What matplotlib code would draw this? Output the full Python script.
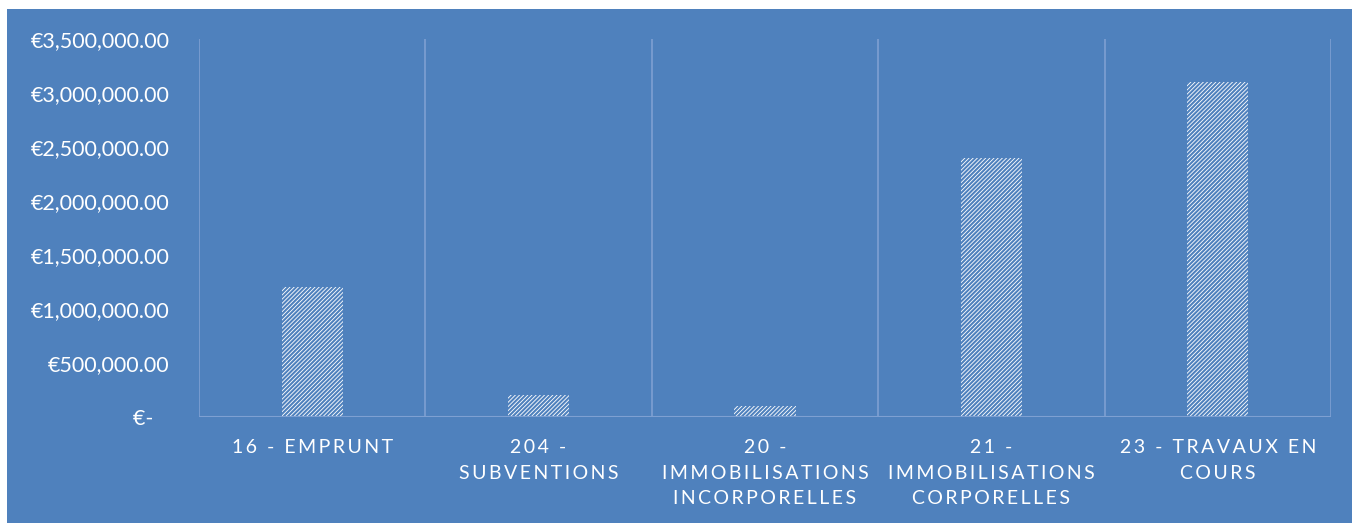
import matplotlib
matplotlib.use("Agg")
import matplotlib.pyplot as plt
from matplotlib.patches import Rectangle
from matplotlib.ticker import FuncFormatter, MultipleLocator

# données
categories = ["16 - EMPRUNT", "204 -\nSUBVENTIONS", "20 -\nIMMOBILISATIONS\nINCORPORELLES",
              "21 -\nIMMOBILISATIONS\nCORPORELLES", "23 - TRAVAUX EN\nCOURS"]
montants = [1200000, 200000, 100000, 2400000, 3100000]

bg = "#4F81BD"
grid_col = "#7EA0D2"

plt.rcParams['font.family'] = ['Lato', 'DejaVu Sans']
plt.rcParams['hatch.linewidth'] = 1.5

fig = plt.figure(figsize=(13.52, 5.23), dpi=100)
fig.patch.set_facecolor('white')
fond = Rectangle((7 / 1352, 0), 1, (523 - 9) / 523, transform=fig.transFigure,
                 facecolor=bg, edgecolor='none', zorder=-10)
fig.add_artist(fond)

ax = fig.add_axes([199 / 1352, (523 - 417) / 523, 1132 / 1352, 378 / 523])
ax.set_zorder(1)
ax.set_facecolor(bg)

x = list(range(len(categories)))
ax.bar(x, montants, width=0.27, color='white', edgecolor=bg, hatch='////////', linewidth=0, zorder=3)

ax.set_xlim(-0.5, len(categories) - 0.5)
ax.set_ylim(0, 3500000)
ax.yaxis.set_major_locator(MultipleLocator(500000))


def euro(v, pos):
    if v == 0:
        return "€-   "
    return "€{:,.2f}".format(v)


ax.yaxis.set_major_formatter(FuncFormatter(euro))

# lignes verticales entre catégories
for b in [i - 0.5 for i in range(len(categories) + 1)]:
    ax.axvline(b, color=grid_col, linewidth=1.2, zorder=1)

for s in ax.spines.values():
    s.set_visible(False)
ax.axhline(0, color=grid_col, linewidth=1.5, zorder=4)

# espacement des lettres
def espacer(txt):
    return "\n".join("\u2009".join(line) for line in txt.split("\n"))


ax.set_xticks(x)
ax.set_xticklabels([espacer(c) for c in categories], fontsize=14, color='white',
                   linespacing=1.6, multialignment='center')
ax.tick_params(axis='x', length=0, pad=16)
ax.tick_params(axis='y', length=0, pad=21, labelsize=15.5, labelcolor='white')

plt.savefig("out.png", dpi=100, facecolor=fig.get_facecolor())
